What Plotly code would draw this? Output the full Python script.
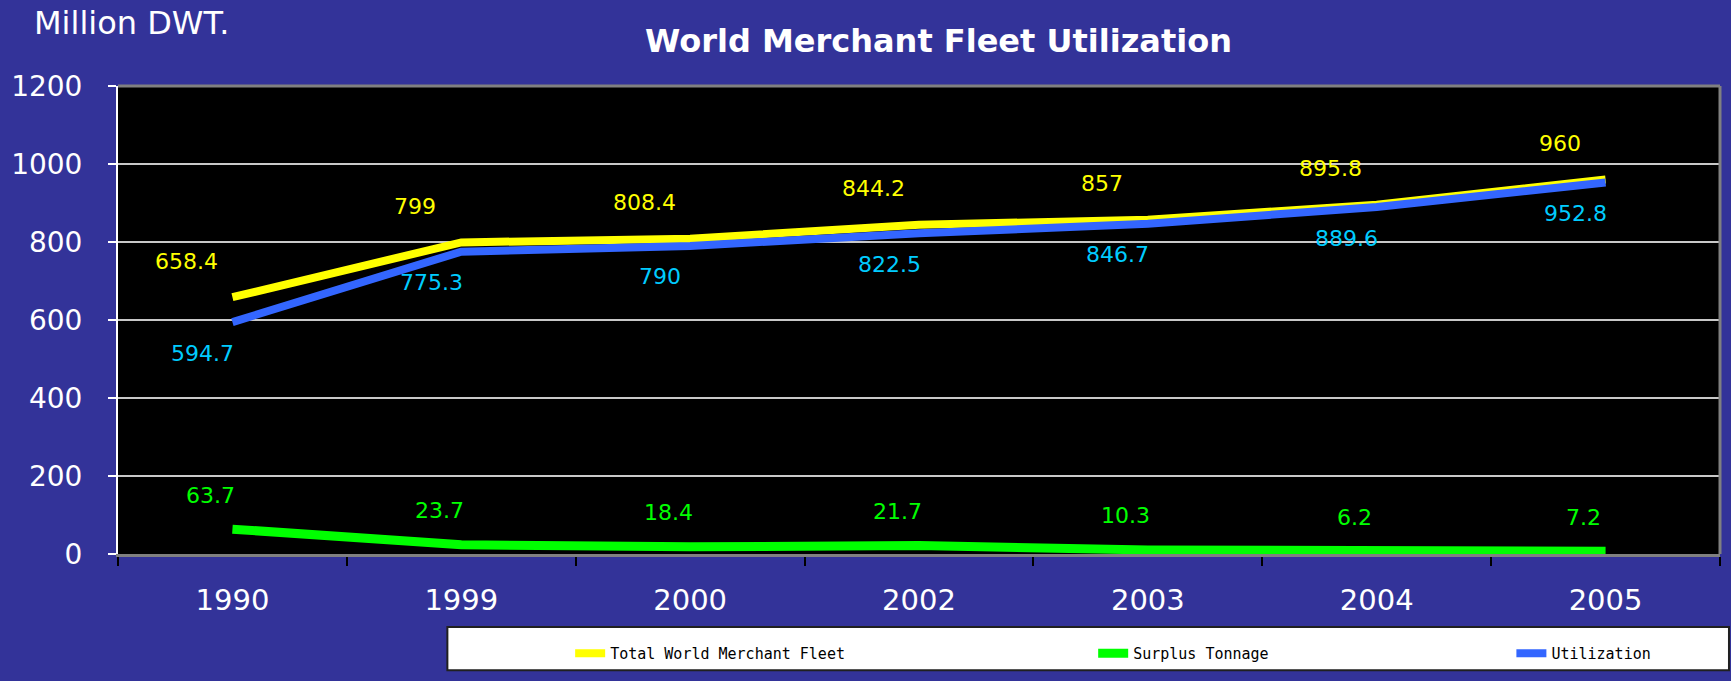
import plotly.graph_objects as go

years = ["1990", "1999", "2000", "2002", "2003", "2004", "2005"]
total_fleet = [658.4, 799, 808.4, 844.2, 857, 895.8, 960]
surplus = [63.7, 23.7, 18.4, 21.7, 10.3, 6.2, 7.2]
utilization = [594.7, 775.3, 790, 822.5, 846.7, 889.6, 952.8]

series_names = ["Total World Merchant Fleet", "Surplus Tonnage", "Utilization"]

BG = "#333399"
W, H = 1731, 681
L, R, T, B = 115, 11, 86, 120
PW, PH = W - L - R, H - T - B


def px_x(p):
    return (p - L) / PW


def px_y(p):
    return (H - B - p) / PH


fig = go.Figure()

series = [
    (series_names[0], total_fleet, "#FFFF00", "#FFFF00", 8, "legend2", -46, 36),
    (series_names[1], surplus, "#00FF00", "#00FF00", 9, "legend3", -22, 34),
    (series_names[2], utilization, "#3366FF", "#00CCFF", 8, "legend4", -30, -31),
]

# draw order: yellow, green, blue (blue on top)
for name, vals, lc, tc, lw, lg, dx, dy in series:
    fig.add_trace(go.Scatter(
        x=years, y=vals, mode="lines", name=name,
        line=dict(color=lc, width=lw),
        legend=lg, hoverinfo="skip",
    ))

annotations = []
for name, vals, lc, tc, lw, lg, dx, dy in series:
    for i, yv in enumerate(vals):
        annotations.append(dict(
            x=i, y=yv, xref="x", yref="y", text=f"{yv:g}",
            showarrow=False, xshift=dx, yshift=dy,
            font=dict(family="DejaVu Sans", size=22, color=tc),
        ))

annotations.append(dict(
    text="Million DWT.", xref="paper", yref="paper",
    x=px_x(29), y=px_y(22), xanchor="left", yanchor="middle",
    showarrow=False, font=dict(family="DejaVu Sans", size=32, color="white"),
))
annotations.append(dict(
    text="<b>World Merchant Fleet Utilization</b>", xref="paper", yref="paper",
    x=px_x(937), y=px_y(40), xanchor="center", yanchor="middle",
    showarrow=False, font=dict(family="DejaVu Sans", size=32, color="white"),
))

shapes = [
    # legend box
    dict(type="rect", xref="paper", yref="paper",
         x0=px_x(445), x1=px_x(1729), y0=px_y(679), y1=px_y(635),
         fillcolor="white", line=dict(color="#202020", width=2), layer="below"),
    # top & right plot border
    dict(type="line", xref="paper", yref="paper", x0=0, x1=1, y0=1, y1=1,
         line=dict(color="#808080", width=3), layer="above"),
    dict(type="line", xref="paper", yref="paper", x0=1, x1=1, y0=0, y1=1,
         line=dict(color="#808080", width=3), layer="above"),
]

legend_common = dict(
    orientation="h", bgcolor="rgba(0,0,0,0)", borderwidth=0,
    font=dict(family="DejaVu Sans Mono", size=15, color="black"),
    xanchor="left", yanchor="middle", y=px_y(662),
    itemclick=False, itemdoubleclick=False,
)

fig.update_layout(
    width=W, height=H,
    margin=dict(l=L, r=R, t=T, b=B),
    paper_bgcolor=BG, plot_bgcolor="black",
    annotations=annotations, shapes=shapes,
    legend2=dict(x=px_x(568), **legend_common),
    legend3=dict(x=px_x(1092), **legend_common),
    legend4=dict(x=px_x(1511), **legend_common),
    xaxis=dict(
        type="category", range=[-0.5, 6.5],
        tickson="boundaries", ticks="outside", ticklen=9,
        tickcolor="black", tickwidth=2,
        showline=True, linecolor="#808080", linewidth=3,
        showgrid=False, zeroline=False,
        tickfont=dict(family="DejaVu Sans", size=29, color="white"),
        ticklabelstandoff=18,
    ),
    yaxis=dict(
        range=[0, 1200], dtick=200, tick0=0,
        ticks="outside", ticklen=8, tickcolor="white", tickwidth=2,
        showline=True, linecolor="white", linewidth=2,
        showgrid=True, gridcolor="#C8C8C8", gridwidth=2,
        zeroline=False,
        tickfont=dict(family="DejaVu Sans", size=28, color="white"),
        ticklabelstandoff=20,
    ),
)

fig.write_html(
    "out.html",
    config={"displayModeBar": False},
    post_script="document.body.style.margin='0';document.body.style.overflow='hidden';",
)
